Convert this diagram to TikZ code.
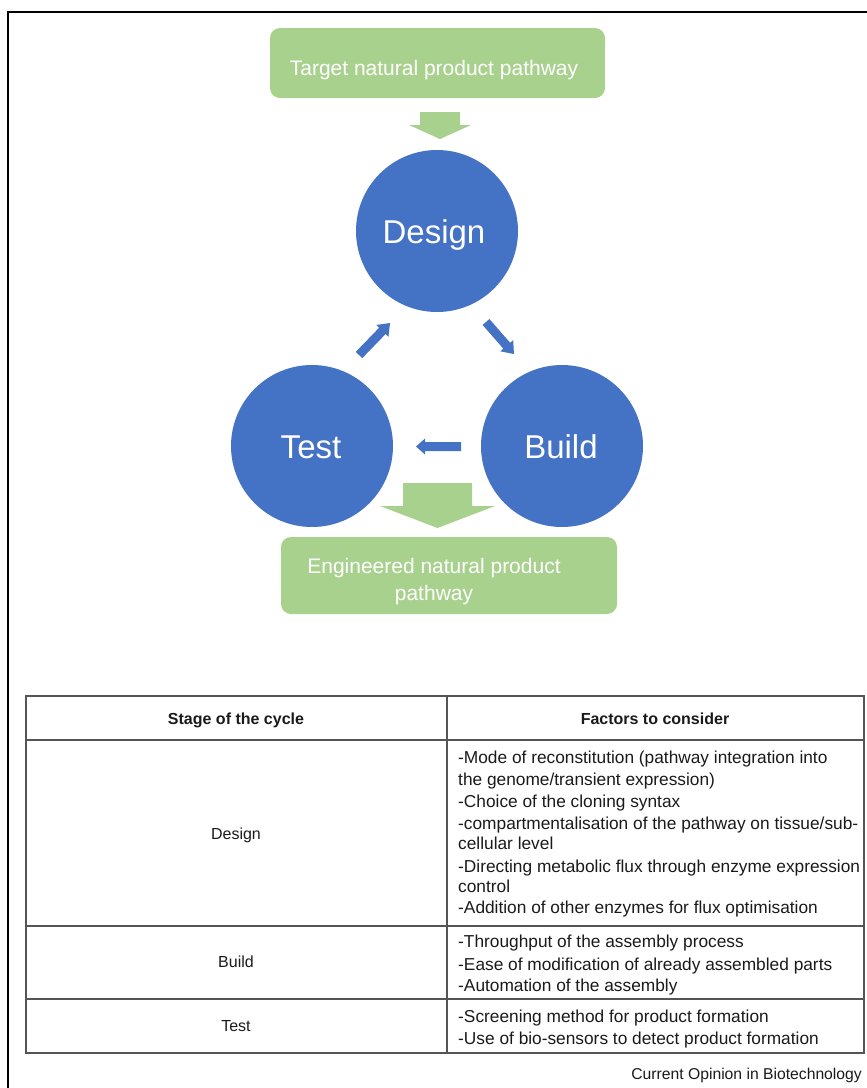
\documentclass[tikz,border=0pt]{standalone}
\usepackage{fontspec}
\setmainfont{Liberation Sans}
\usetikzlibrary{calc}
\definecolor{pgreen}{HTML}{A9D18E}
\definecolor{pblue}{HTML}{4472C4}
\definecolor{tline}{HTML}{555555}
\definecolor{ttext}{HTML}{1A1A1A}
\newcommand\blockarrow[6]{%
  \coordinate (ba-c) at ($(#2)!#5!(#1)$);
  \fill[#6] ($(#1)!#3!90:(#2)$) -- ($(ba-c)!#3!90:(#2)$) -- ($(ba-c)!#4!90:(#2)$) -- (#2)
    -- ($(ba-c)!#4!-90:(#2)$) -- ($(ba-c)!#3!-90:(#2)$) -- ($(#1)!#3!-90:(#2)$) -- cycle;}
\tikzset{
  gbox/.style={draw=none, fill=pgreen, rounded corners=10pt},
  stagecircle/.style={circle, fill=pblue, inner sep=0pt, minimum size=162pt},
  wtext/.style={text=white, inner sep=0pt, anchor=base},
  ctext/.style={text=white, inner sep=0pt, anchor=base, font=\fontsize{33}{38}\selectfont},
  btext/.style={text=white, inner sep=0pt, anchor=base, font=\fontsize{21}{25}\selectfont},
  cell/.style={text=ttext, inner sep=0pt, anchor=base, font=\fontsize{16}{19}\selectfont},
  hcell/.style={text=ttext, inner sep=0pt, anchor=base, font=\fontsize{16}{19}\selectfont\bfseries},
  fcell/.style={text=ttext, inner sep=0pt, anchor=base west, font=\fontsize{17.3}{20}\selectfont},
  tl/.style={draw=tline, line width=1.4pt},
}
\begin{document}
\begin{tikzpicture}[x=1pt,y=-1pt]
\useasboundingbox (0,0) rectangle (867,1088);
% outer frame
\draw[black, line width=1.8pt] (8,1090) -- (8,12) -- (869,12);

% top box
\path[gbox] (270,28) rectangle (605,98);
\node[btext] (toptext) at (434,75.5) {Target natural product pathway};
\coordinate (ga1) at (440,112);
\coordinate (ga2) at (440,139);
\blockarrow{ga1}{ga2}{20pt}{31pt}{14pt}{pgreen}

% circles
\node[stagecircle] (design) at (437,231) {};
\node[stagecircle] (test) at (312,446) {};
\node[stagecircle] (build) at (562,446) {};
\node[ctext] at (434,243) {Design};
\node[ctext] at (311,458) {Test};
\node[ctext] at (561,458) {Build};

% blue arrows
\coordinate (a1s) at (359,355);
\coordinate (a1e) at (390,323);
\blockarrow{a1s}{a1e}{4.5pt}{8.5pt}{11pt}{pblue}
\coordinate (a2s) at (486,322);
\coordinate (a2e) at (514,354);
\blockarrow{a2s}{a2e}{4.5pt}{8.5pt}{11pt}{pblue}
\coordinate (a3s) at (461,446.5);
\coordinate (a3e) at (416,446.5);
\blockarrow{a3s}{a3e}{4.5pt}{8pt}{9pt}{pblue}

% big green arrow
\coordinate (gb1) at (437.5,483);
\coordinate (gb2) at (437.5,528);
\blockarrow{gb1}{gb2}{34.5pt}{57.5pt}{22pt}{pgreen}

% bottom box
\path[gbox] (281,537) rectangle (617,614);
\node[btext] (bot1) at (434,573.5) {Engineered natural product};
\node[btext] (bot2) at (434,600.5) {pathway};

% table
\draw[tl] (26,696) rectangle (864,1053);
\draw[tl] (26,740) -- (864,740);
\draw[tl] (26,926) -- (864,926);
\draw[tl] (26,999) -- (864,999);
\draw[tl] (447,696) -- (447,1053);

\node[hcell] at (236,724) {Stage of the cycle};
\node[hcell] at (655,724) {Factors to consider};

\node[cell] at (236,839) {Design};
\node[cell] at (236,967) {Build};
\node[cell] at (236,1031) {Test};

\node[fcell] at (458,763) {-Mode of reconstitution (pathway integration into};
\node[fcell] at (458,785) {the genome/transient expression)};
\node[fcell] at (458,807) {-Choice of the cloning syntax};
\node[fcell] at (458,829) {-compartmentalisation of the pathway on tissue/sub-};
\node[fcell] at (458,849) {cellular level};
\node[fcell] at (458,872) {-Directing metabolic flux through enzyme expression};
\node[fcell] at (458,892) {control};
\node[fcell] at (458,913) {-Addition of other enzymes for flux optimisation};

\node[fcell] at (458,947) {-Throughput of the assembly process};
\node[fcell] at (458,970) {-Ease of modification of already assembled parts};
\node[fcell] at (458,991) {-Automation of the assembly};

\node[fcell] at (458,1022) {-Screening method for product formation};
\node[fcell] at (458,1044) {-Use of bio-sensors to detect product formation};

% caption
\node[text=ttext, inner sep=0pt, anchor=base east, font=\fontsize{15.7}{19}\selectfont] at (862,1079) {Current Opinion in Biotechnology};
\end{tikzpicture}
\end{document}
